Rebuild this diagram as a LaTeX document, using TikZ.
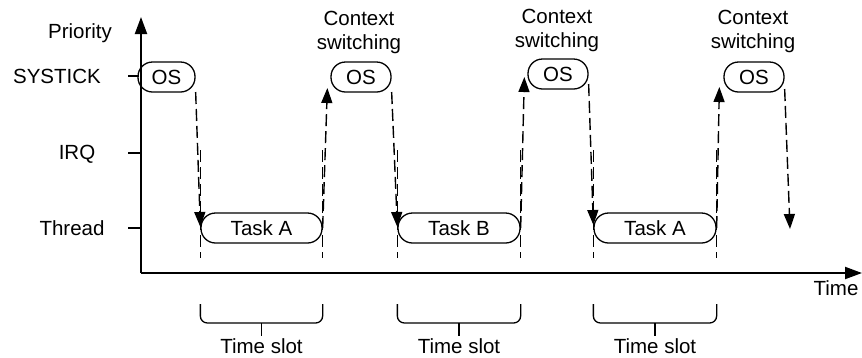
\documentclass[tikz,border=0pt]{standalone}
\usepackage{fontspec}
\setmainfont{Liberation Sans}
\usetikzlibrary{arrows.meta,calc}
\begin{document}
\begin{tikzpicture}[x=1pt,y=-1pt,
  txt/.style={font=\fontsize{20.5}{24}\selectfont, inner sep=0pt, align=center},
  osbox/.style={draw, line width=1.3pt, rounded corners=14.5pt, minimum width=60pt, minimum height=30pt, inner sep=0pt, font=\fontsize{20.5}{24}\selectfont},
  taskbox/.style={osbox, minimum width=122pt},
  axis/.style={line width=2pt, -{Triangle[length=17pt,width=12pt]}},
  tick/.style={line width=1.3pt},
  sw/.style={line width=1.4pt, dash pattern=on 12pt off 5pt, -{Triangle[length=15pt,width=11pt]}},
  guide/.style={line width=1.4pt, dash pattern=on 12pt off 5pt},
  slot/.style={line width=1.3pt, rounded corners=7pt}
]
\useasboundingbox (0,0) rectangle (862,357);
% axes
\coordinate (o) at (141,273);
\coordinate (ytop) at (141,17);
\coordinate (xend) at (862,273);
\draw[axis] (o) -- (ytop);
\draw[axis] (o) -- (xend);
% level labels and ticks
\node[txt] (lprio) at (80,33) {Priority};
\node[txt] (lsys) at (57,76) {SYSTICK};
\node[txt] (lirq) at (77,154) {IRQ};
\node[txt] (lthr) at (72,228) {Thread};
\node[txt] (ltime) at (836,288) {Time};
\coordinate (t1a) at (128,76); \coordinate (t1b) at (139,76);
\coordinate (t2a) at (128,153); \coordinate (t2b) at (141,153);
\coordinate (t3a) at (128,228); \coordinate (t3b) at (141,228);
\draw[tick] (t1a) -- (t1b);
\draw[tick] (t2a) -- (t2b);
\draw[tick] (t3a) -- (t3b);
% boxes
\node[osbox, minimum width=57pt] (os1) at (166.5,77) {OS};
\node[osbox] (os2) at (361,77) {OS};
\node[osbox] (os3) at (558,74) {OS};
\node[osbox] (os4) at (754,77) {OS};
\node[taskbox, minimum width=121pt] (ta1) at (261.5,228) {Task A};
\node[taskbox] (tb) at (459,228) {Task B};
\node[taskbox] (ta2) at (655,228) {Task A};
% context switching labels
\node[txt] (cs2) at (359,32) {Context\\switching};
\node[txt] (cs3) at (557,30) {Context\\switching};
\node[txt] (cs4) at (753,31) {Context\\switching};
% guides
\foreach \n in {ta1,tb,ta2}{
  \draw[guide] ($(\n.west)+(0,-78)$) -- ($(\n.west)+(0,30)$);
  \draw[guide] ($(\n.east)+(0,-78)$) -- ($(\n.east)+(0,30)$);
}
% switching arrows
\draw[sw] ($(os1.east)+(0,15)$) -- ($(ta1.west)+(0,-1)$);
\draw[sw] (ta1.east) -- ($(os2.west)+(-3,11)$);
\draw[sw] ($(os2.east)+(0,15)$) -- ($(tb.west)+(0,-1)$);
\draw[sw] (tb.east) -- ($(os3.west)+(-3,3)$);
\draw[sw] ($(os3.east)+(0,10)$) -- ($(ta2.west)+(0,-3)$);
\draw[sw] (ta2.east) -- ($(os4.west)+(-4,10)$);
\coordinate (end7) at (790,229);
\draw[sw] ($(os4.east)+(0,12)$) -- (end7);
% time slots
\foreach \n/\m in {ta1/s1,tb/s2,ta2/s3}{
  \draw[slot] ($(\n.west)+(0,76)$) -- ($(\n.west)+(0,95)$) -- ($(\n.east)+(0,95)$) -- ($(\n.east)+(0,76)$);
  \draw[tick] ($(\n.center)+(0,95)$) -- ($(\n.center)+(0,108)$);
  \node[txt] (\m) at ($(\n.center)+(0,118)$) {Time slot};
}
\end{tikzpicture}
\end{document}
